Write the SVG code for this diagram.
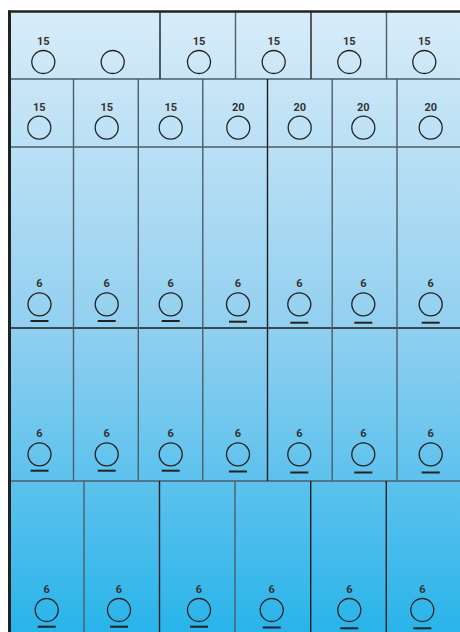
<svg xmlns="http://www.w3.org/2000/svg" width="460" height="632" viewBox="0 0 460 632">
<defs>
<linearGradient id="bg" x1="0" y1="12" x2="0" y2="632" gradientUnits="userSpaceOnUse">
<stop offset="0" stop-color="#d8ecf9"/>
<stop offset="0.5" stop-color="#93d0f0"/>
<stop offset="1" stop-color="#29b4ea"/>
</linearGradient>
<style>
.c{fill:none;stroke:#222;stroke-width:1.3}
.t{font-family:Roboto,"Liberation Sans",sans-serif;font-weight:bold;font-size:11px;fill:#333;text-anchor:middle}
.u{stroke:#222;stroke-width:2}
.g{stroke:#4e5c68;stroke-width:1.4}
.d{stroke:#1e1e1e;stroke-width:1.4}
</style>
</defs>
<rect x="9" y="12" width="451" height="620" fill="url(#bg)"/>
<g id="grid">
<line class="g" x1="9" y1="79" x2="460" y2="79"/>
<line class="g" x1="9" y1="147" x2="460" y2="147"/>
<line class="d" x1="9" y1="328" x2="460" y2="328"/>
<line class="g" x1="9" y1="481" x2="460" y2="481"/>
<line class="d" x1="160" y1="12" x2="160" y2="79"/>
<line class="g" x1="235.5" y1="12" x2="235.5" y2="79"/>
<line class="d" x1="311" y1="12" x2="311" y2="79"/>
<line class="g" x1="386.5" y1="12" x2="386.5" y2="79"/>
<line class="g" x1="73.5" y1="79" x2="73.5" y2="481"/>
<line class="g" x1="138.3" y1="79" x2="138.3" y2="481"/>
<line class="g" x1="202.8" y1="79" x2="202.8" y2="481"/>
<line class="d" x1="267.5" y1="79" x2="267.5" y2="481"/>
<line class="g" x1="332.2" y1="79" x2="332.2" y2="481"/>
<line class="g" x1="397" y1="79" x2="397" y2="481"/>
<line class="g" x1="84" y1="481" x2="84" y2="632"/>
<line class="d" x1="159.5" y1="481" x2="159.5" y2="632"/>
<line class="g" x1="235" y1="481" x2="235" y2="632"/>
<line class="d" x1="310.7" y1="481" x2="310.7" y2="632"/>
<line class="d" x1="386.3" y1="481" x2="386.3" y2="632"/>
</g>
<g id="frame">
<line x1="9.5" y1="10.5" x2="9.5" y2="632" stroke="#222" stroke-width="3"/>
<line x1="8" y1="11.5" x2="460" y2="11.5" stroke="#222" stroke-width="2.5"/>
</g>
<g id="r1c1"><text class="t" x="43.3" y="44.7">15</text><circle class="c" cx="43.3" cy="62" r="11.5"/><circle class="c" cx="112.7" cy="62" r="11.5"/></g>
<g id="r1c2"><text class="t" x="199" y="44.7">15</text><circle class="c" cx="199" cy="62" r="11.5"/></g>
<g id="r1c3"><text class="t" x="273.7" y="44.7">15</text><circle class="c" cx="273.7" cy="62" r="11.5"/></g>
<g id="r1c4"><text class="t" x="349.3" y="44.7">15</text><circle class="c" cx="349.3" cy="62" r="11.5"/></g>
<g id="r1c5"><text class="t" x="424.3" y="44.7">15</text><circle class="c" cx="424.3" cy="62" r="11.5"/></g>

<g id="r2c1"><text class="t" x="39.3" y="110.7">15</text><circle class="c" cx="39.3" cy="127.7" r="11.5"/></g>
<g id="r2c2"><text class="t" x="106.7" y="110.7">15</text><circle class="c" cx="106.7" cy="127.7" r="11.5"/></g>
<g id="r2c3"><text class="t" x="170.7" y="110.7">15</text><circle class="c" cx="170.7" cy="127.7" r="11.5"/></g>
<g id="r2c4"><text class="t" x="238.3" y="110.7">20</text><circle class="c" cx="238.3" cy="127.7" r="11.5"/></g>
<g id="r2c5"><text class="t" x="299.7" y="110.7">20</text><circle class="c" cx="299.7" cy="127.7" r="11.5"/></g>
<g id="r2c6"><text class="t" x="363.3" y="110.7">20</text><circle class="c" cx="363.3" cy="127.7" r="11.5"/></g>
<g id="r2c7"><text class="t" x="430.7" y="110.7">20</text><circle class="c" cx="430.7" cy="127.7" r="11.5"/></g>

<g id="r3c1"><text class="t" x="39.5" y="287.3">6</text><circle class="c" cx="39.5" cy="304.3" r="11.5"/><line class="u" x1="30.5" y1="321" x2="48.5" y2="321"/></g>
<g id="r3c2"><text class="t" x="106.7" y="287.3">6</text><circle class="c" cx="106.7" cy="304.3" r="11.5"/><line class="u" x1="97.7" y1="321" x2="115.7" y2="321"/></g>
<g id="r3c3"><text class="t" x="170.7" y="287.3">6</text><circle class="c" cx="170.7" cy="304.3" r="11.5"/><line class="u" x1="161.7" y1="321" x2="179.7" y2="321"/></g>
<g id="r3c4"><text class="t" x="238" y="287.3">6</text><circle class="c" cx="238" cy="304.3" r="11.5"/><line class="u" x1="229" y1="321.7" x2="247" y2="321.7"/></g>
<g id="r3c5"><text class="t" x="299.3" y="287.3">6</text><circle class="c" cx="299.3" cy="304.3" r="11.5"/><line class="u" x1="290.3" y1="322.7" x2="308.3" y2="322.7"/></g>
<g id="r3c6"><text class="t" x="363.3" y="287.3">6</text><circle class="c" cx="363.3" cy="304.3" r="11.5"/><line class="u" x1="354.3" y1="322.7" x2="372.3" y2="322.7"/></g>
<g id="r3c7"><text class="t" x="430.7" y="287.3">6</text><circle class="c" cx="430.7" cy="304.3" r="11.5"/><line class="u" x1="421.7" y1="322.7" x2="439.7" y2="322.7"/></g>

<g id="r4c1"><text class="t" x="39.5" y="436.7">6</text><circle class="c" cx="39.5" cy="454.3" r="11.5"/><line class="u" x1="30.5" y1="470.7" x2="48.5" y2="470.7"/></g>
<g id="r4c2"><text class="t" x="106.7" y="436.7">6</text><circle class="c" cx="106.7" cy="454.3" r="11.5"/><line class="u" x1="97.7" y1="470.7" x2="115.7" y2="470.7"/></g>
<g id="r4c3"><text class="t" x="170.7" y="436.7">6</text><circle class="c" cx="170.7" cy="454.3" r="11.5"/><line class="u" x1="161.7" y1="470.7" x2="179.7" y2="470.7"/></g>
<g id="r4c4"><text class="t" x="238" y="436.7">6</text><circle class="c" cx="238" cy="454.3" r="11.5"/><line class="u" x1="229" y1="471.5" x2="247" y2="471.5"/></g>
<g id="r4c5"><text class="t" x="299.3" y="436.7">6</text><circle class="c" cx="299.3" cy="454.3" r="11.5"/><line class="u" x1="290.3" y1="472.5" x2="308.3" y2="472.5"/></g>
<g id="r4c6"><text class="t" x="363.3" y="436.7">6</text><circle class="c" cx="363.3" cy="454.3" r="11.5"/><line class="u" x1="354.3" y1="472.5" x2="372.3" y2="472.5"/></g>
<g id="r4c7"><text class="t" x="430.7" y="436.7">6</text><circle class="c" cx="430.7" cy="454.3" r="11.5"/><line class="u" x1="421.7" y1="472.5" x2="439.7" y2="472.5"/></g>

<g id="r5c1"><text class="t" x="46.7" y="593">6</text><circle class="c" cx="46.7" cy="610" r="11.5"/><line class="u" x1="37.7" y1="626.7" x2="55.7" y2="626.7"/></g>
<g id="r5c2"><text class="t" x="119" y="593">6</text><circle class="c" cx="119" cy="610" r="11.5"/><line class="u" x1="110" y1="626.7" x2="128" y2="626.7"/></g>
<g id="r5c3"><text class="t" x="199" y="593">6</text><circle class="c" cx="199" cy="610" r="11.5"/><line class="u" x1="190" y1="626.7" x2="208" y2="626.7"/></g>
<g id="r5c4"><text class="t" x="271.7" y="593">6</text><circle class="c" cx="271.7" cy="610" r="11.5"/><line class="u" x1="262.7" y1="627.5" x2="280.7" y2="627.5"/></g>
<g id="r5c5"><text class="t" x="349.3" y="593">6</text><circle class="c" cx="349.3" cy="610" r="11.5"/><line class="u" x1="340.3" y1="628.3" x2="358.3" y2="628.3"/></g>
<g id="r5c6"><text class="t" x="422.3" y="593">6</text><circle class="c" cx="422.3" cy="610" r="11.5"/><line class="u" x1="413.3" y1="628.3" x2="431.3" y2="628.3"/></g>
</svg>
